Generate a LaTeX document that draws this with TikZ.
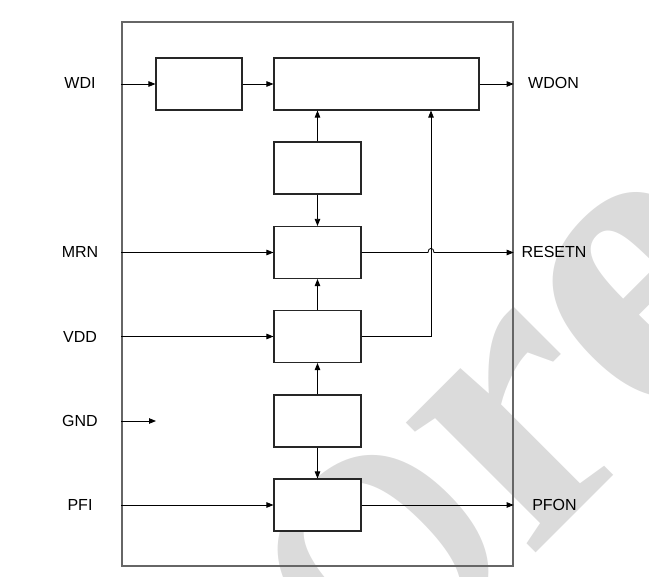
\documentclass[tikz,border=0pt]{standalone}
\usepackage{fontspec}
\setmainfont{Liberation Sans}
\newfontfamily\wmfont{Liberation Serif}
\usetikzlibrary{arrows.meta}
\begin{document}
\begin{tikzpicture}[x=1pt,y=-1pt,
  blk/.style={draw=black!85, fill=white, line width=1.1pt, minimum width=87pt, minimum height=52pt, inner sep=0pt, anchor=center},
  wire/.style={draw=black, line width=0.8pt},
  arr/.style={wire, -{Triangle[length=7pt,width=5.5pt]}},
  lbl/.style={font=\fontsize{16}{19}\selectfont, inner sep=0pt},
  wmark/.style={rotate=45, anchor=base west, inner sep=0pt, text=black!14}]
\useasboundingbox (0,0) rectangle (649,577);
\begin{scope}
\clip (0,0) rectangle (649,577);
\node[wmark, font=\wmfont\fontsize{440}{440}\selectfont] (wmo) at (377,711) {o};
\node[wmark, font=\wmfont\bfseries\fontsize{400}{400}\selectfont] (wmr) at (528,561) {r};
\node[wmark, font=\wmfont\bfseries\fontsize{440}{440}\selectfont] (wme) at (654,441) {e};
\end{scope}
\node[draw=black!60, line width=1.3pt, minimum width=391pt, minimum height=544pt, inner sep=0pt] (chip) at (317.5,294) {};
\node[blk, minimum width=86pt] (A) at (199,84) {};
\node[blk, minimum width=205pt] (B) at (376.5,84) {};
\node[blk] (C) at (317.5,168) {};
\node[blk] (D) at (317.5,252.5) {};
\node[blk] (E) at (317.5,336.5) {};
\node[blk] (F) at (317.5,421) {};
\node[blk] (G) at (317.5,505) {};
\coordinate (tap) at (431,336.5);
\coordinate (j1) at (428,252.5);
\coordinate (j2) at (434,252.5);
\coordinate (gndend) at (156,421);
\draw[arr] (chip.west |- A.west) -- (A.west);
\draw[arr] (A.east) -- (B.west);
\draw[arr] (B.east) -- (chip.east |- B.east);
\draw[arr] (C.north) -- (B.south -| C.north);
\draw[arr] (C.south) -- (D.north);
\draw[arr] (E.north) -- (D.south);
\draw[arr] (F.north) -- (E.south);
\draw[arr] (F.south) -- (G.north);
\draw[arr] (E.east) -- (tap) -- (B.south -| tap);
\draw[arr] (D.east) -- (j1) .. controls +(0,-5.5) and +(0,-5.5) .. (j2) -- (chip.east |- D.east);
\draw[arr] (chip.west |- D.west) -- (D.west);
\draw[arr] (chip.west |- E.west) -- (E.west);
\draw[arr] (chip.west |- gndend) -- (gndend);
\draw[arr] (chip.west |- G.west) -- (G.west);
\draw[arr] (G.east) -- (chip.east |- G.east);
\node[lbl] (wdi) at (80,83) {WDI};
\node[lbl] (mrn) at (80,252) {MRN};
\node[lbl] (vdd) at (80,337) {VDD};
\node[lbl] (gnd) at (80,421) {GND};
\node[lbl] (pfi) at (80,505) {PFI};
\node[lbl] (wdon) at (553.5,83) {WDON};
\node[lbl] (resetn) at (554,252) {RESETN};
\node[lbl] (pfon) at (554.5,505) {PFON};
\end{tikzpicture}
\end{document}
